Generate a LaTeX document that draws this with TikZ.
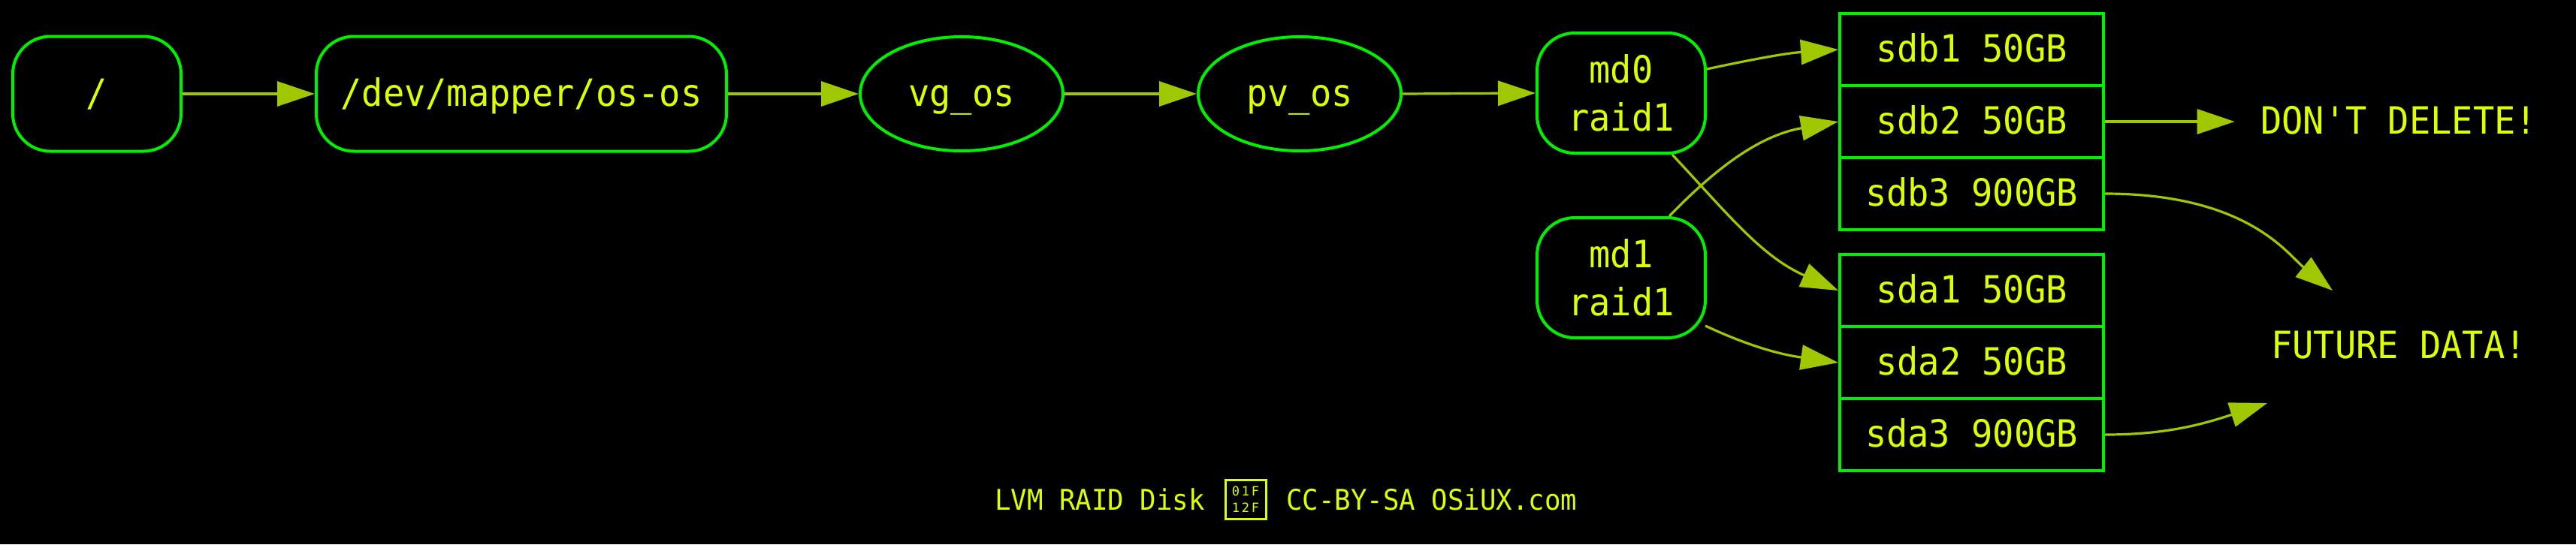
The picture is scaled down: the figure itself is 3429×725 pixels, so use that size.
\documentclass[tikz,border=0pt]{standalone}
\usepackage{fontspec}
\setmonofont{DejaVu Sans Mono}[FakeStretch=0.94]
\newfontfamily\hexfont{DejaVu Sans Mono}
\usetikzlibrary{arrows.meta,shapes.geometric,calc}
\definecolor{bord}{HTML}{00F000}
\definecolor{txt}{HTML}{DDFF00}
\definecolor{edge}{HTML}{9FC800}
\begin{document}
\begin{tikzpicture}[x=0.5pt,y=-0.5pt,
  every node/.style={text=txt, font=\ttfamily\fontsize{25}{32}\selectfont, inner sep=0pt},
  one/.style={text height=20pt, text depth=4pt},
  rbox/.style={draw=bord, line width=2pt, rounded corners=25pt, align=center, minimum height=76.5pt},
  ell/.style={draw=bord, line width=2pt, ellipse, minimum width=135pt, minimum height=76pt, one},
  part/.style={draw=bord, line width=2pt, minimum width=175.5pt, minimum height=48pt, one},
  plain/.style={inner xsep=17pt, inner ysep=6pt, one},
  conn/.style={draw=edge, line width=1.6pt, -{Triangle[length=25pt,width=16.5pt]}},
  foot/.style={font=\ttfamily\fontsize{19}{22}\selectfont}
]
\fill[black] (0,0) rectangle (3429,725);
\useasboundingbox (0,0) rectangle (3429,725);

\node[rbox, one, minimum width=112pt] (root) at (129,125) {/};
\node[rbox, one, minimum width=273pt] (dev) at (694,125) {/dev/mapper/os-os};
\node[ell] (vg) at (1280,125) {vg\_os};
\node[ell] (pv) at (1730,125) {pv\_os};
\node[rbox, minimum width=112pt, minimum height=80pt] (md0) at (2158,124) {md0\\raid1};
\node[rbox, minimum width=112pt, minimum height=80pt] (md1) at (2158,370) {md1\\raid1};

\node[part] (sdb1) at (2624.5,66) {sdb1 50GB};
\node[part] (sdb2) at (2624.5,162) {sdb2 50GB};
\node[part] (sdb3) at (2624.5,258) {sdb3 900GB};
\node[part] (sda1) at (2624.5,387) {sda1 50GB};
\node[part] (sda2) at (2624.5,483) {sda2 50GB};
\node[part] (sda3) at (2624.5,579) {sda3 900GB};

\node[plain] (dont) at (3193,162) {DON'T DELETE!};
\node[plain] (future) at (3193,461) {FUTURE DATA!};
\coordinate (fut1) at (3105,387);
\coordinate (fut2) at (3018,537);

\draw[conn] (root.east) -- (dev.west);
\draw[conn] (dev.east) -- (vg.west);
\draw[conn] (vg.east) -- (pv.west);
\draw[conn] (pv.east) -- (md0.west);
\draw[conn] ([yshift=16pt]md0.east) to[out=12,in=184] (sdb1.west);
\draw[conn] ([xshift=34pt]md0.south) to[out=-47,in=156] (sda1.west);
\draw[conn] ([xshift=32pt]md1.north) to[out=46,in=190] (sdb2.west);
\draw[conn] ([xshift=-1pt,yshift=-32pt]md1.east) to[out=-25,in=172] (sda2.west);
\draw[conn] (sdb2.east) -- (dont.west);
\draw[conn] (sdb3.east) .. controls +(190,0) and +(-60,-48) .. (fut1);
\draw[conn] (sda3.east) to[out=0,in=198] (fut2);

\node[draw=txt, line width=1.5pt, minimum width=27pt, minimum height=26pt, align=center,
      font=\hexfont\fontsize{8.5}{11}\selectfont] (hex) at (1658,665) {0\,1\,F\\1\,2\,F};
\node[foot, anchor=east] (footl) at (1604,665) {LVM RAID Disk};
\node[foot, anchor=west] (footr) at (1712,665) {CC-BY-SA OSiUX.com};
\end{tikzpicture}
\end{document}
